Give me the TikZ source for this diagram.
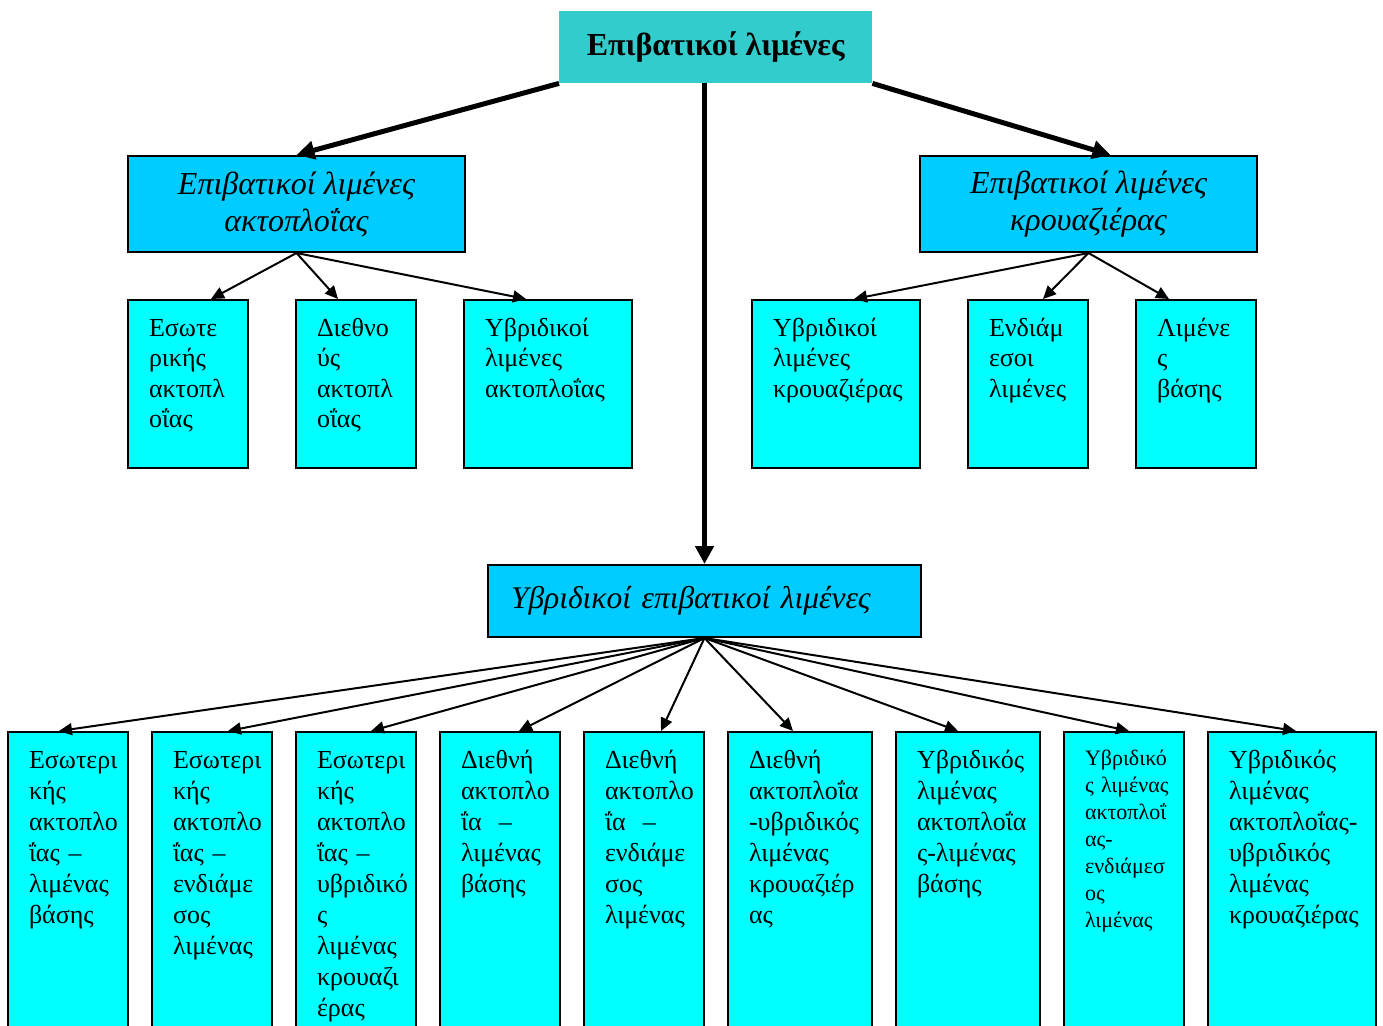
\documentclass[tikz,border=0pt]{standalone}
\usepackage{fontspec}
\setmainfont{Liberation Serif}
\usepackage{tikz}
\usetikzlibrary{arrows.meta}
\definecolor{rootfill}{HTML}{33CCCC}
\definecolor{groupfill}{HTML}{00CCFF}
\definecolor{leaffill}{HTML}{00FFFF}
\tikzset{
  rootbox/.style={fill=rootfill, anchor=north west, inner sep=0pt,
    minimum width=313pt, minimum height=72pt,
    font=\fontsize{32}{36}\selectfont\bfseries},
  groupbox/.style={draw, line width=2pt, fill=groupfill, anchor=north west,
    inner sep=0pt, minimum width=337pt, minimum height=96pt, align=center,
    font=\fontsize{32}{37}\selectfont\itshape},
  hybbox/.style={draw, line width=2pt, fill=groupfill, anchor=north west,
    inner xsep=23pt, inner ysep=0pt, text width=387pt, minimum height=72pt,
    align=left, font=\fontsize{31.5}{36}\selectfont\itshape},
  leafbox/.style={draw, line width=2pt, fill=leaffill, anchor=north west,
    inner sep=0pt, align=left, font=\fontsize{26}{30.5}\selectfont,
    text height=36pt, text depth=132pt,
    execute at begin node={\leftskip=21pt\hyphenpenalty=10000\exhyphenpenalty=10000\relax}},
  cellbox/.style={leafbox, font=\fontsize{26}{31}\selectfont, text depth=264pt},
  bigarrow/.style={line width=5pt, -{Triangle[length=18pt,width=18pt]}},
  smallarrow/.style={line width=2pt, -{Triangle[length=13pt,width=12pt]}}
}

\begin{document}
\begin{tikzpicture}[x=1pt,y=-1pt]
\useasboundingbox (0,0) rectangle (1383,1025);
% levels 1 and 2
\node[rootbox] (top) at (559,11) {Επιβατικοί λιμένες};
\node[groupbox] (coast) at (127,155) {Επιβατικοί λιμένες\\ακτοπλοΐας};
\node[groupbox] (cruise) at (919,155) {Επιβατικοί λιμένες\\κρουαζιέρας};
\node[hybbox] (hyb) at (487,564) {Υβριδικοί επιβατικοί λιμένες};
% level 3
\node[leafbox, text width=120pt] (inner) at (127,299) {Εσωτε\\ρικής\\ακτοπλ\\οΐας};
\node[leafbox, text width=120pt] (intl) at (295,299) {Διεθνο\\ύς\\ακτοπλ\\οΐας};
\node[leafbox, text width=168pt] (hybcoast) at (463,299) {Υβριδικοί\\λιμένες\\ακτοπλοΐας};
\node[leafbox, text width=168pt] (hybcruise) at (751,299) {Υβριδικοί\\λιμένες\\κρουαζιέρας};
\node[leafbox, text width=120pt] (mid) at (967,299) {Ενδιάμ\\εσοι\\λιμένες};
\node[leafbox, text width=120pt] (base) at (1135,299) {Λιμένε\\ς\\βάσης};
% hybrid types
\node[cellbox, text width=120pt] (h1) at (7,731) {Εσωτερι\\κής\\ακτοπλο\\ΐας –\\λιμένας\\βάσης};
\node[cellbox, text width=120pt] (h2) at (151,731) {Εσωτερι\\κής\\ακτοπλο\\ΐας –\\ενδιάμε\\σος\\λιμένας};
\node[cellbox, text width=120pt] (h3) at (295,731) {Εσωτερι\\κής\\ακτοπλο\\ΐας –\\υβριδικό\\ς\\λιμένας\\κρουαζι\\έρας};
\node[cellbox, text width=120pt] (h4) at (439,731) {Διεθνή\\ακτοπλο\\ΐα~~–\\λιμένας\\βάσης};
\node[cellbox, text width=120pt] (h5) at (583,731) {Διεθνή\\ακτοπλο\\ΐα~~–\\ενδιάμε\\σος\\λιμένας};
\node[cellbox, text width=144pt] (h6) at (727,731) {Διεθνή\\ακτοπλοΐα\\-υβριδικός\\λιμένας\\κρουαζιέρ\\ας};
\node[cellbox, text width=144pt] (h7) at (895,731) {Υβριδικός\\λιμένας\\ακτοπλοΐα\\ς-λιμένας\\βάσης};
\node[cellbox, text width=120pt, text height=33pt, font=\fontsize{22}{27}\selectfont] (h8) at (1063,731) {Υβριδικό\\ς λιμένας\\ακτοπλοΐ\\ας-\\ενδιάμεσ\\ος\\λιμένας};
\node[cellbox, text width=168pt] (h9) at (1207,731) {Υβριδικός\\λιμένας\\ακτοπλοΐας-\\υβριδικός\\λιμένας\\κρουαζιέρας};
% arrows
\draw[bigarrow] (top.south west) -- (coast.north);
\draw[bigarrow] (top.south -| hyb.north) -- (hyb.north);
\draw[bigarrow] (top.south east) -- ([xshift=22pt]cruise.north);
\draw[smallarrow] (coast.south) -- ([xshift=23pt]inner.north);
\draw[smallarrow] (coast.south) -- ([xshift=-18pt]intl.north);
\draw[smallarrow] (coast.south) -- ([xshift=-22pt]hybcoast.north);
\draw[smallarrow] (cruise.south) -- ([xshift=18pt]hybcruise.north);
\draw[smallarrow] (cruise.south) -- ([xshift=15pt]mid.north);
\draw[smallarrow] (cruise.south) -- ([xshift=-27pt]base.north);
\foreach \i/\s in {1/-9,2/16,3/15,4/19,5/17,6/-7,7/-10,8/5,9/4} {
 \draw[smallarrow] (hyb.south) -- ([xshift=\s pt]h\i.north);
}
\end{tikzpicture}
\end{document}
